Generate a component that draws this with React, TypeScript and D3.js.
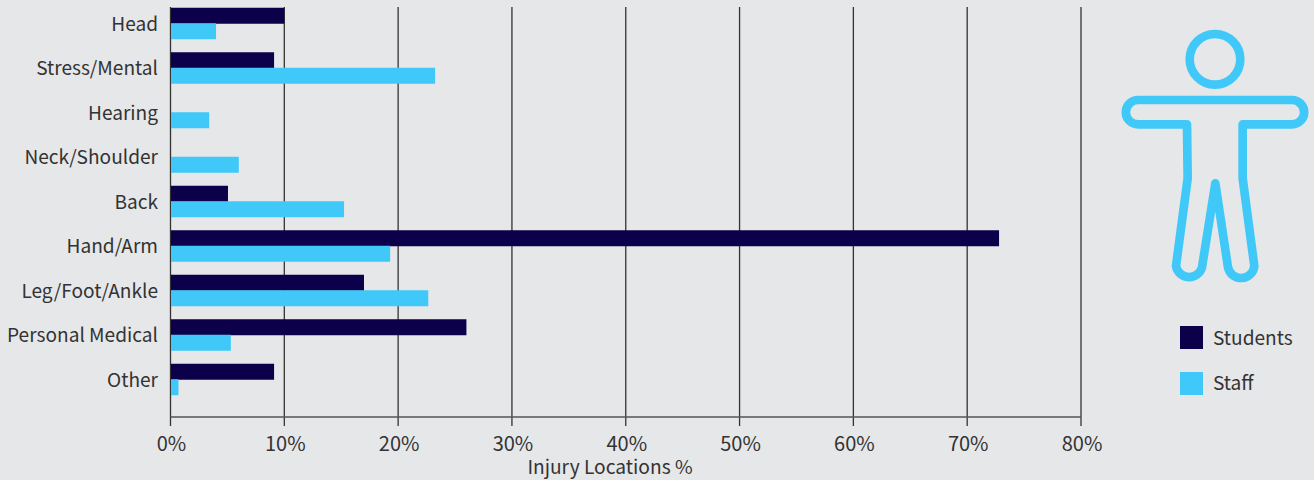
import React from "react";
import * as d3 from "d3";

const categories = ["Head", "Stress/Mental", "Hearing", "Neck/Shoulder", "Back", "Hand/Arm", "Leg/Foot/Ankle", "Personal Medical", "Other"];
const students = [10, 9.1, 0, 0, 5.05, 72.8, 17, 26, 9.1];
const staff = [4, 23.25, 3.4, 6, 15.25, 19.3, 22.65, 5.3, 0.7];
const ticks = [0, 10, 20, 30, 40, 50, 60, 70, 80];
const seriesNames = ["Students", "Staff"];
const colors = ["#0C004B", "#40C8F8"];
const BG = "#E6E7E9";
const TEXT = "#333333";
const FONT = "'Noto Sans CJK SC', 'Noto Sans', sans-serif";

const W = 1314, H = 480;
const x = d3.scaleLinear().domain([0, 80]).range([170.5, 1081]);
const y = d3.scaleBand<string>().domain(categories).range([1.5, 402]).paddingInner(0).paddingOuter(0);
const axisY = 417;
const barH = 16;

const bodyPath = "M114,270 L576,270 A36.5,36.5 0 0 1 576,343 L428,343 L428,505 L463,768 A40,40 0 0 1 384,772 L346,520 L306,772 A40,40 0 0 1 228,768 L263,505 L261,343 L114,343 A36.5,36.5 0 0 1 114,270 Z";

export default function App() {
  return (
    <svg width={W} height={H} viewBox={`0 0 ${W} ${H}`} style={{ position: "fixed", left: 0, top: 0, display: "block", background: BG }} fontFamily={FONT}>
      <rect width={W} height={H} fill={BG} />
      {ticks.map((t) => (
        <g key={t}>
          <line x1={x(t)} x2={x(t)} y1={7} y2={426} stroke="#333" strokeWidth={1.3} />
          <text x={x(t) + 1} y={451} textAnchor="middle" fontSize={20} fill={TEXT}>{t}%</text>
        </g>
      ))}
      <line x1={x(0)} x2={x(80)} y1={axisY} y2={axisY} stroke="#555" strokeWidth={1.6} />
      {categories.map((c, i) => {
        const y0 = (y(c) as number) + y.bandwidth() / 2;
        return (
          <g key={c}>
            <rect x={x(0) + 0.5} y={y0 - barH} width={Math.max(0, x(students[i]) - x(0) - 0.5)} height={barH} fill={colors[0]} />
            <rect x={x(0) + 0.5} y={y0 - 0.5} width={x(staff[i]) - x(0) - 0.5} height={barH} fill={colors[1]} />
            <text x={158} y={y0} dy="0.1em" textAnchor="end" dominantBaseline="middle" fontSize={19.1} fill={TEXT}>{c}</text>
          </g>
        );
      })}
      <text x={610} y={474} textAnchor="middle" fontSize={19.2} fill={TEXT}>Injury Locations %</text>

      <circle cx={1215} cy={59.3} r={25.3} fill="none" stroke={colors[1]} strokeWidth={8.6} />
      <g transform="translate(1100,10) scale(0.33333)">
        <path d={bodyPath} fill="none" stroke={colors[1]} strokeWidth={26} strokeLinejoin="round" />
      </g>

      {seriesNames.map((s, i) => (
        <g key={s}>
          <rect x={1180} y={326 + i * 46} width={23} height={23} fill={colors[i]} />
          <text x={1213} y={338.4 + i * 45} dy="0.1em" dominantBaseline="middle" fontSize={19.1} fill={TEXT}>{s}</text>
        </g>
      ))}
    </svg>
  );
}
